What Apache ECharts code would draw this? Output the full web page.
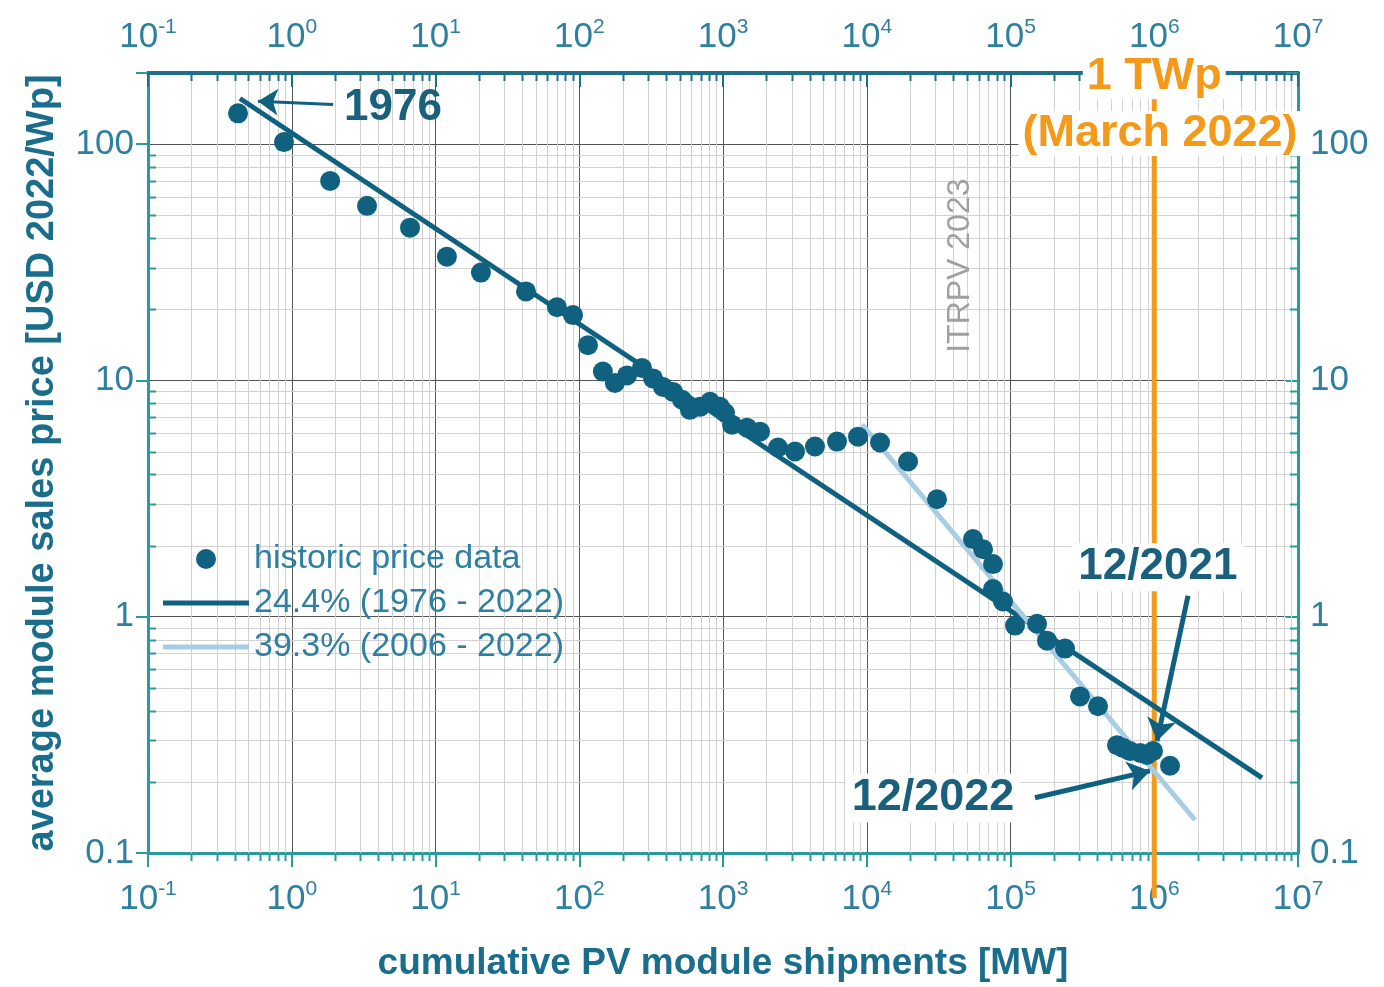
<!DOCTYPE html>
<html>
<head>
<meta charset="utf-8">
<script src="https://cdn.jsdelivr.net/npm/echarts@6/dist/echarts.min.js"></script>
<style>
  html, body { margin: 0; padding: 0; background: #ffffff; }
  #chart { width: 1384px; height: 987px; }
</style>
</head>
<body>
<div id="chart"></div>
<script>
// Historic module prices vs. cumulative shipments (learning curve)
const shipmentsMW = [0.423, 0.883, 1.85, 3.34, 6.65, 12.0, 20.7, 42.6, 70, 90.5,
  115, 146, 177, 215, 273, 326, 382, 449, 519, 589,
  692, 812, 953, 1033, 1155, 1469, 1809, 2413, 3170, 4365,
  6210, 8693, 12370, 19370, 30810, 54830, 64390, 75560, 75560, 88660,
  107500, 152900, 179500, 239400, 304400, 406200, 550700, 610000, 678400, 800000,
  890500, 980200, 1287000];
const pricesUSD = [135, 102, 69.9, 54.8, 44.3, 33.4, 28.6, 23.8, 20.4, 18.9,
  14.1, 10.9, 9.76, 10.5, 11.3, 10.2, 9.39, 8.94, 8.28, 7.51,
  7.73, 8.12, 7.73, 7.30, 6.50, 6.31, 6.07, 5.20, 5.00, 5.25,
  5.51, 5.78, 5.46, 4.54, 3.14, 2.13, 1.93, 1.67, 1.31, 1.16,
  0.917, 0.934, 0.792, 0.733, 0.460, 0.418, 0.286, 0.278, 0.270, 0.265,
  0.260, 0.270, 0.234];

// Fitted learning-rate lines (end points)
const fit1976X = [0.436, 5.62e6];
const fit1976Y = [156, 0.208];
const fit2006X = [9270, 1.92e6];
const fit2006Y = [6.5, 0.138];

// Axis ranges and tick labels
const xMin = 0.1, xMax = 1e7;
const yMin = 0.1, yMax = 200;
const xTickExponents = [-1, 0, 1, 2, 3, 4, 5, 6, 7];
const yTickLabels = ['0.1', '1', '10', '100'];
const oneTWpMW = 1e6;

const seriesNames = ['historic price data', '24.4% (1976 - 2022)', '39.3% (2006 - 2022)'];

const FONT = "'Liberation Sans', Arial, Helvetica, sans-serif";
const DARK = '#10617f';
const LIGHT = '#a9cde3';
const ORANGE = '#f39a1b';
const TEAL_AXIS = '#2a9a9c';
const TOP_AXIS = '#1f6f86';
const LABEL_C = '#2f7fa0';
const TITLE_C = '#1b6d8c';
const NOTE_C = '#1a5f7c';

const scatterData = shipmentsMW.map((x, i) => [x, pricesUSD[i]]);
const fit1976 = fit1976X.map((x, i) => [x, fit1976Y[i]]);
const fit2006 = fit2006X.map((x, i) => [x, fit2006Y[i]]);

function isPow10(v) {
  const e = Math.log10(v);
  return Math.abs(e - Math.round(e)) < 1e-6;
}
function xLabel(v) {
  if (!isPow10(v)) return '';
  const e = Math.round(Math.log10(v));
  if (xTickExponents.indexOf(e) < 0) return '';
  return '{b|10}{s|' + e + '}';
}
function yLabel(v) {
  if (!isPow10(v)) return '';
  const e = Math.round(Math.log10(v));
  return yTickLabels[e + 1] || '';
}
const powRich = {
  b: { fontSize: 35, color: LABEL_C, fontFamily: FONT, lineHeight: 40 },
  s: { fontSize: 21, color: LABEL_C, fontFamily: FONT, verticalAlign: 'top', lineHeight: 22 }
};

// Minor grid, minor ticks and the 1 TWp marker line
function renderFrame(params, api) {
  const cs = params.coordSys;
  const L = cs.x, T = cs.y, R = cs.x + cs.width, B = cs.y + cs.height;
  const kids = [];
  const gridStyle = { stroke: '#d2d2d2', lineWidth: 1 };
  for (let k = Math.round(Math.log10(xMin)); k < Math.round(Math.log10(xMax)); k++) {
    for (let m = 2; m <= 9; m++) {
      const px = Math.round(api.coord([m * Math.pow(10, k), 1])[0]) + 0.5;
      kids.push({ type: 'line', shape: { x1: px, y1: T, x2: px, y2: B }, style: gridStyle });
      kids.push({ type: 'line', shape: { x1: px, y1: B, x2: px, y2: B + 8 }, style: { stroke: TEAL_AXIS, lineWidth: 2 } });
      kids.push({ type: 'line', shape: { x1: px, y1: T, x2: px, y2: T + 8 }, style: { stroke: TOP_AXIS, lineWidth: 2 } });
    }
  }
  for (let k = Math.round(Math.log10(yMin)); k <= 2; k++) {
    for (let m = 2; m <= 9; m++) {
      const v = m * Math.pow(10, k);
      if (v >= yMax) continue;
      const py = Math.round(api.coord([1, v])[1]) + 0.5;
      kids.push({ type: 'line', shape: { x1: L, y1: py, x2: R, y2: py }, style: gridStyle });
      kids.push({ type: 'line', shape: { x1: L, y1: py, x2: L + 8, y2: py }, style: { stroke: TEAL_AXIS, lineWidth: 2 } });
      kids.push({ type: 'line', shape: { x1: R - 8, y1: py, x2: R, y2: py }, style: { stroke: TEAL_AXIS, lineWidth: 2 } });
    }
  }
  const ox = api.coord([oneTWpMW, 1])[0];
  kids.push({ type: 'line', shape: { x1: ox, y1: T, x2: ox, y2: B + 45 }, style: { stroke: ORANGE, lineWidth: 5 } });
  return { type: 'group', children: kids };
}

function note(text, coord, size, color, extra) {
  return {
    coord: coord,
    symbol: 'circle',
    symbolSize: 0,
    label: Object.assign({
      show: true, position: 'inside', formatter: text,
      fontSize: size, fontWeight: 'bold', color: color, fontFamily: FONT,
      backgroundColor: '#ffffff', padding: [2, 6]
    }, extra || {})
  };
}
function arrow(from, to, width, head) {
  return [
    { coord: from, symbol: 'none', lineStyle: { color: DARK, width: width, type: 'solid' } },
    { coord: to, symbol: 'arrow', symbolSize: head }
  ];
}

// Legend icons: dot for the data, flat bars for the fit lines
const LINE_ICON = 'path://M0,0 L86,0 L86,5 L0,5 Z';

const chart = echarts.init(document.getElementById('chart'), null, { renderer: 'canvas' });
chart.setOption({
  backgroundColor: '#ffffff',
  animation: false,
  grid: { left: 148, right: 86, top: 73, bottom: 132 },
  legend: {
    orient: 'vertical', left: 158, top: 536,
    itemWidth: 86, itemHeight: 20, itemGap: 8,
    data: [
      { name: seriesNames[0], icon: 'circle' },
      { name: seriesNames[1], icon: LINE_ICON },
      { name: seriesNames[2], icon: LINE_ICON }
    ],
    textStyle: { fontSize: 34, color: LABEL_C, fontFamily: FONT, lineHeight: 36 },
    selectedMode: false
  },
  xAxis: [{
    type: 'log', logBase: 10, min: xMin, max: xMax, position: 'bottom',
    name: 'cumulative PV module shipments [MW]', nameLocation: 'middle', nameGap: 92,
    nameTextStyle: { fontSize: 37, fontWeight: 'bold', color: TITLE_C, fontFamily: FONT },
    axisLine: { show: true, lineStyle: { color: TEAL_AXIS, width: 3 } },
    axisTick: { show: true, inside: false, length: 14, lineStyle: { color: TEAL_AXIS, width: 2 } },
    axisLabel: { formatter: xLabel, rich: powRich, margin: 26 },
    splitLine: { show: true, lineStyle: { color: '#555555', width: 1 } },
    minorTick: { show: false }
  }, {
    type: 'log', logBase: 10, min: xMin, max: xMax, position: 'top',
    axisLine: { show: true, lineStyle: { color: TOP_AXIS, width: 4 } },
    axisTick: { show: true, inside: true, length: 14, lineStyle: { color: TOP_AXIS, width: 2 } },
    axisLabel: { formatter: xLabel, rich: powRich, margin: 16 },
    splitLine: { show: false }
  }],
  yAxis: [{
    type: 'log', logBase: 10, min: yMin, max: yMax, position: 'left',
    name: 'average module sales price [USD 2022/Wp]', nameLocation: 'middle', nameGap: 86,
    nameTextStyle: { fontSize: 38, fontWeight: 'bold', color: TITLE_C, fontFamily: FONT },
    axisLine: { show: true, lineStyle: { color: TEAL_AXIS, width: 3 } },
    axisTick: { show: true, inside: false, length: 12, lineStyle: { color: TEAL_AXIS, width: 2 } },
    axisLabel: { formatter: yLabel, fontSize: 35, color: LABEL_C, fontFamily: FONT, margin: 14 },
    splitLine: { show: true, lineStyle: { color: '#555555', width: 1 } }
  }, {
    type: 'log', logBase: 10, min: yMin, max: yMax, position: 'right',
    axisLine: { show: true, lineStyle: { color: TEAL_AXIS, width: 3 } },
    axisTick: { show: true, inside: true, length: 12, lineStyle: { color: TEAL_AXIS, width: 2 } },
    axisLabel: { formatter: yLabel, fontSize: 35, color: LABEL_C, fontFamily: FONT, margin: 12 },
    splitLine: { show: false }
  }],
  series: [
    {
      type: 'custom', name: 'frame', xAxisIndex: 0, yAxisIndex: 0,
      renderItem: renderFrame, data: [[1, 1]], clip: false, silent: true, z: 1
    },
    {
      type: 'line', name: seriesNames[1], data: fit1976, symbol: 'none',
      lineStyle: { color: DARK, width: 5 }, itemStyle: { color: DARK }, z: 3, silent: true
    },
    {
      type: 'line', name: seriesNames[2], data: fit2006, symbol: 'none',
      lineStyle: { color: LIGHT, width: 5 }, itemStyle: { color: LIGHT }, z: 3, silent: true
    },
    {
      type: 'scatter', name: seriesNames[0], data: scatterData, symbol: 'circle', symbolSize: 20,
      itemStyle: { color: DARK, opacity: 1 }, z: 4, clip: false, silent: true,
      markLine: {
        silent: true, animation: false, label: { show: false },
        data: [
          arrow([1.94, 147], [0.582, 152], 3, 20),
          arrow([1.717e6, 1.226], [1.045e6, 0.298], 5, 22),
          arrow([148000, 0.1713], [934000, 0.2226], 5, 22)
        ]
      },
      markPoint: {
        silent: true, animation: false,
        data: [
          note('1976', [5.06, 141.8], 44, NOTE_C, { backgroundColor: 'transparent' }),
          note('12/2021', [1.06e6, 1.62], 44, NOTE_C),
          note('12/2022', [28900, 0.171], 45, NOTE_C),
          note('1 TWp', [1e6, 193], 45, ORANGE, { padding: [0, 4] }),
          note('(March 2022)', [1.096e6, 111], 45, ORANGE, { padding: [0, 4] }),
          note('ITRPV 2023', [44500, 30.6], 32, '#a0a0a0', { rotate: 90, fontWeight: 'normal', backgroundColor: 'transparent' })
        ]
      }
    }
  ]
});
</script>
</body>
</html>
